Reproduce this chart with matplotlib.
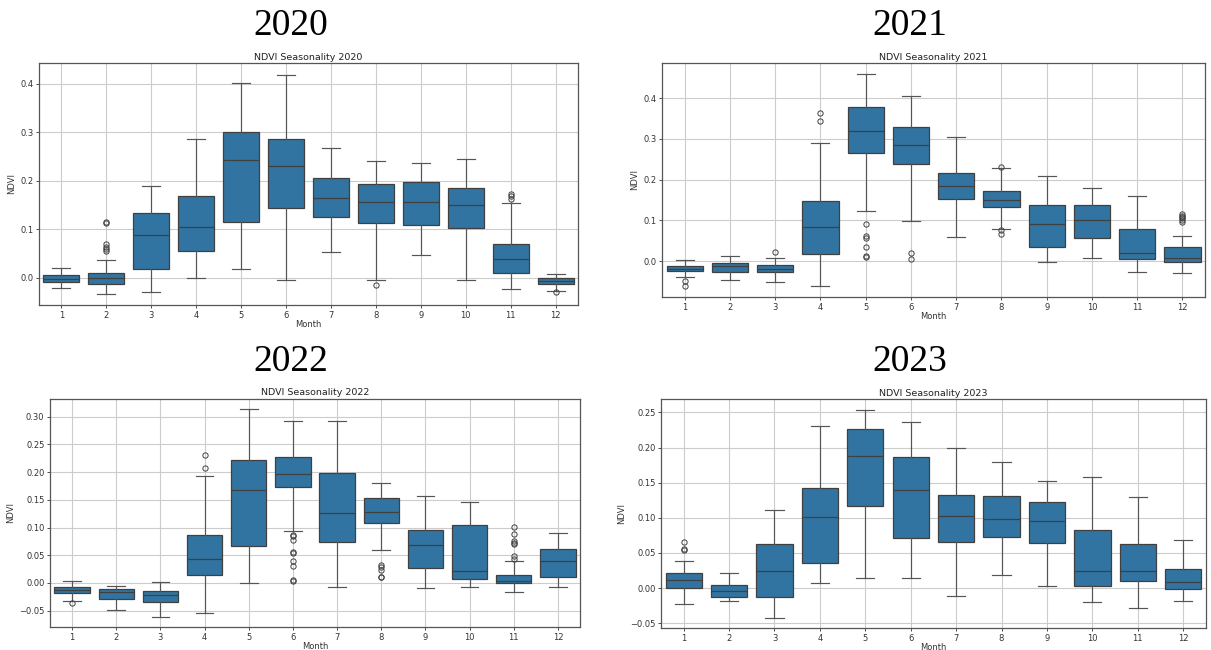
import matplotlib
matplotlib.use("Agg")
import matplotlib.pyplot as plt

months = list(range(1, 13))
years = [2020, 2021, 2022, 2023]

# ---- 2020 ----
med_2020 = [-0.002, -0.001, 0.089, 0.104, 0.243, 0.231, 0.164, 0.156, 0.156, 0.151, 0.038, -0.006]
q1_2020 = [-0.009, -0.012, 0.019, 0.055, 0.115, 0.144, 0.125, 0.113, 0.108, 0.103, 0.010, -0.013]
q3_2020 = [0.005, 0.009, 0.134, 0.169, 0.300, 0.286, 0.206, 0.193, 0.198, 0.185, 0.069, -0.001]
lo_2020 = [-0.021, -0.034, -0.029, 0.000, 0.019, -0.005, 0.053, -0.005, 0.047, -0.005, -0.023, -0.027]
hi_2020 = [0.021, 0.036, 0.190, 0.287, 0.401, 0.419, 0.268, 0.240, 0.237, 0.245, 0.155, 0.008]
fl_2020 = [[], [0.113, 0.115, 0.069, 0.064, 0.060, 0.056], [], [], [], [], [], [-0.015],
           [], [], [0.162, 0.169, 0.173], [-0.030]]

# ---- 2021 ----
med_2021 = [-0.018, -0.012, -0.018, 0.083, 0.319, 0.284, 0.185, 0.150, 0.091, 0.100, 0.020, 0.009]
q1_2021 = [-0.024, -0.026, -0.027, 0.017, 0.266, 0.238, 0.152, 0.134, 0.035, 0.056, 0.006, -0.003]
q3_2021 = [-0.011, -0.004, -0.010, 0.147, 0.379, 0.330, 0.217, 0.171, 0.138, 0.138, 0.079, 0.034]
lo_2021 = [-0.038, -0.047, -0.050, -0.061, 0.122, 0.099, 0.060, 0.079, -0.001, 0.007, -0.027, -0.030]
hi_2021 = [0.004, 0.014, 0.007, 0.289, 0.460, 0.405, 0.305, 0.228, 0.208, 0.179, 0.160, 0.061]
fl_2021 = [[-0.049, -0.060], [], [0.023], [0.363, 0.343],
           [0.091, 0.062, 0.058, 0.034, 0.013, 0.011], [0.019, 0.006], [],
           [0.230, 0.076, 0.066], [], [], [], [0.116, 0.112, 0.109, 0.105, 0.102, 0.097]]

# ---- 2022 ----
med_2022 = [-0.013, -0.016, -0.022, 0.043, 0.168, 0.196, 0.127, 0.128, 0.069, 0.022, 0.004, 0.040]
q1_2022 = [-0.018, -0.029, -0.035, 0.015, 0.067, 0.173, 0.074, 0.108, 0.027, 0.007, -0.001, 0.011]
q3_2022 = [-0.008, -0.011, -0.014, 0.087, 0.221, 0.228, 0.199, 0.153, 0.096, 0.105, 0.015, 0.061]
lo_2022 = [-0.032, -0.048, -0.061, -0.055, -0.001, 0.093, -0.008, 0.060, -0.010, -0.008, -0.017, -0.008]
hi_2022 = [0.004, -0.006, 0.001, 0.193, 0.314, 0.293, 0.293, 0.180, 0.157, 0.146, 0.040, 0.090]
fl_2022 = [[-0.037], [], [], [0.231, 0.208], [],
           [0.087, 0.085, 0.078, 0.056, 0.054, 0.039, 0.030, 0.006, 0.004], [],
           [0.033, 0.029, 0.024, 0.011, 0.010], [], [],
           [0.101, 0.089, 0.075, 0.072, 0.070, 0.049, 0.043], []]

# ---- 2023 ----
med_2023 = [0.012, -0.004, 0.024, 0.101, 0.188, 0.139, 0.103, 0.099, 0.096, 0.025, 0.024, 0.008]
q1_2023 = [0.000, -0.012, -0.012, 0.036, 0.117, 0.071, 0.066, 0.073, 0.064, 0.003, 0.010, -0.001]
q3_2023 = [0.021, 0.005, 0.063, 0.143, 0.226, 0.186, 0.133, 0.131, 0.122, 0.082, 0.063, 0.027]
lo_2023 = [-0.022, -0.018, -0.042, 0.007, 0.015, 0.014, -0.011, 0.019, 0.003, -0.020, -0.029, -0.018]
hi_2023 = [0.038, 0.021, 0.111, 0.231, 0.254, 0.236, 0.200, 0.180, 0.153, 0.158, 0.129, 0.068]
fl_2023 = [[0.065, 0.056, 0.054], [], [], [], [], [], [], [], [], [], [], []]

data = {
    2020: (med_2020, q1_2020, q3_2020, lo_2020, hi_2020, fl_2020),
    2021: (med_2021, q1_2021, q3_2021, lo_2021, hi_2021, fl_2021),
    2022: (med_2022, q1_2022, q3_2022, lo_2022, hi_2022, fl_2022),
    2023: (med_2023, q1_2023, q3_2023, lo_2023, hi_2023, fl_2023),
}

# layout (figure fractions) and y-limits per panel
axes_rect = {
    2020: [0.0322, 0.5308, 0.4451, 0.3723],
    2021: [0.5467, 0.5431, 0.4484, 0.3600],
    2022: [0.0413, 0.0354, 0.4377, 0.3508],
    2023: [0.5458, 0.0338, 0.4500, 0.3523],
}
ylims = {
    2020: (-0.056, 0.443),
    2021: (-0.0877, 0.486),
    2022: (-0.0795, 0.332),
    2023: (-0.0568, 0.269),
}
big_title_pos = {2020: (291, 26), 2021: (910, 26), 2022: (291, 362), 2023: (910, 362)}

BOX_COLOR = "#3274a1"
LINE_COLOR = "#404040"
WHISK_COLOR = "#555555"

W, H = 1211, 650
fig = plt.figure(figsize=(W / 100, H / 100), dpi=100)

for yr in years:
    med, q1, q3, lo, hi, fl = data[yr]
    ax = fig.add_axes(axes_rect[yr])
    stats = []
    for i in range(12):
        stats.append(dict(med=med[i], q1=q1[i], q3=q3[i], whislo=lo[i], whishi=hi[i],
                          fliers=fl[i], label=str(months[i])))
    ax.bxp(stats, positions=months, widths=0.8, patch_artist=True,
           boxprops=dict(facecolor=BOX_COLOR, edgecolor=LINE_COLOR, linewidth=0.9),
           medianprops=dict(color=LINE_COLOR, linewidth=0.9),
           whiskerprops=dict(color=WHISK_COLOR, linewidth=0.85),
           capprops=dict(color=WHISK_COLOR, linewidth=0.85),
           flierprops=dict(marker="o", markerfacecolor="none", markeredgecolor=LINE_COLOR,
                           markersize=3.8, markeredgewidth=0.7))
    ax.set_xlim(0.5, 12.5)
    ax.set_ylim(*ylims[yr])
    ax.set_xticks(months)
    ax.set_xticklabels([str(m) for m in months])
    ax.set_axisbelow(True)
    ax.grid(True, color="#cccccc", linewidth=0.8)
    ax.tick_params(labelsize=6, length=2.5, width=0.6, colors="#333333", pad=1.5)
    for sp in ax.spines.values():
        sp.set_color("#555555")
        sp.set_linewidth(0.9)
    ax.set_xlabel("Month", fontsize=6, labelpad=0, color="#333333")
    ax.set_ylabel("NDVI", fontsize=6, labelpad=3, color="#333333")
    ax.set_title(f"NDVI Seasonality {yr}", fontsize=6.8, pad=2.5, color="#222222")
    bx, by = big_title_pos[yr]
    fig.text(bx / W, 1 - by / H, str(yr), fontsize=27, family="Liberation Serif",
             ha="center", va="center", color="black")

fig.savefig("out.png", dpi=100)
